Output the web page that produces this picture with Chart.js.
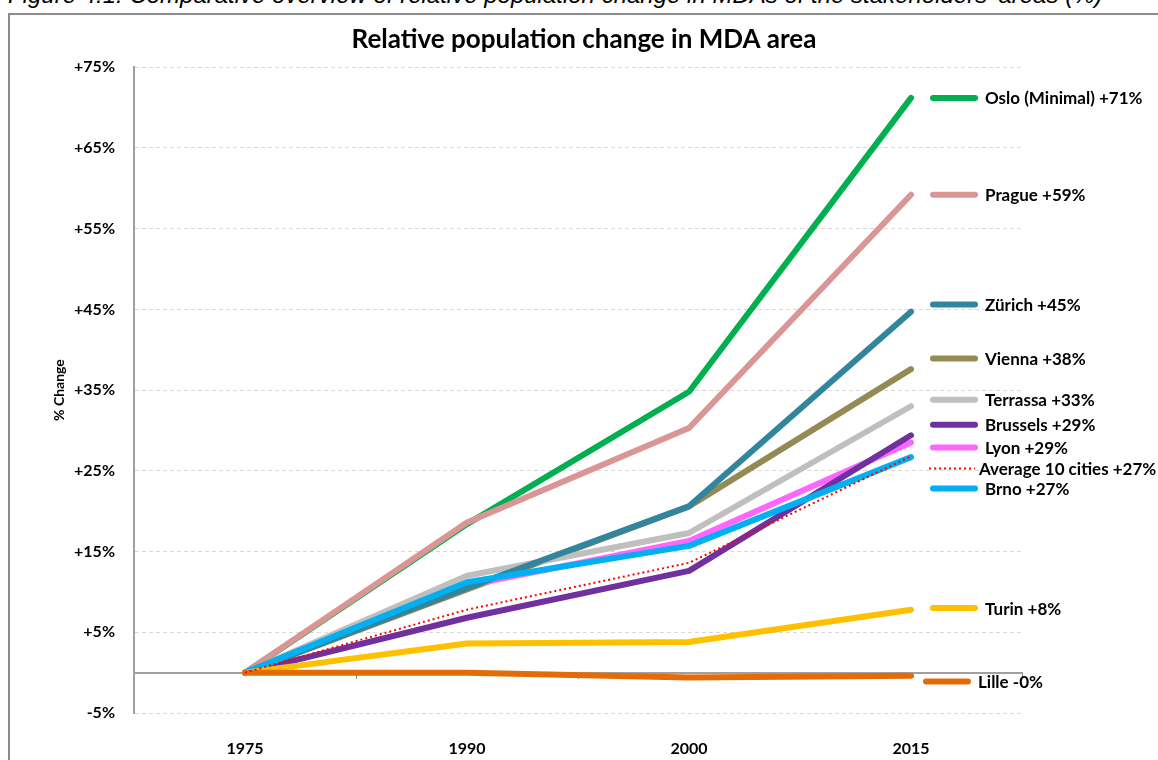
<!DOCTYPE html>
<html>
<head>
<meta charset="utf-8">
<script src="https://cdn.jsdelivr.net/npm/chart.js@4.4.0/dist/chart.umd.min.js"></script>
<style>
  html, body { margin: 0; padding: 0; background: #fff; overflow: hidden; }
  #wrap { position: relative; width: 1158px; height: 760px; }
  #caption { position: absolute; left: 8px; top: -19px; line-height: 24px; font: italic 24px "Liberation Sans", Arial, sans-serif; color: #000; white-space: nowrap; }
  #frame { position: absolute; left: 8px; top: 13px; right: 0; bottom: 0; border-left: 2px solid #8c8c8c; border-top: 2px solid #8c8c8c; }
  canvas { position: absolute; left: 0; top: 0; }
</style>
</head>
<body>
<div id="wrap">
  <div id="caption">Figure 4.1: Comparative overview of relative population change in MDAs of the stakeholders' areas (%)</div>
  <div id="frame"></div>
  <canvas id="chart" width="1158" height="760"></canvas>
</div>
<script>
// data (% change since 1975)
const years = ['1975', '1990', '2000', '2015'];
const yTicks = [-5, 0, 5, 15, 25, 35, 45, 55, 65, 75];

const oslo     = [0, 18.4, 34.8, 71.2];
const prague   = [0, 18.6, 30.3, 59.2];
const zurich   = [0, 10.5, 20.6, 44.7];
const vienna   = [0, 10.3, 20.6, 37.6];
const terrassa = [0, 12.0, 17.3, 33.0];
const brussels = [0, 6.8, 12.6, 29.4];
const lyon     = [0, 10.8, 16.3, 28.5];
const average  = [0, 7.8, 13.6, 26.8];
const brno     = [0, 11.2, 15.7, 26.7];
const turin    = [0, 3.6, 3.8, 7.8];
const lille    = [0, 0, -0.6, -0.4];

const labelNames = ['Oslo (Minimal) +71%', 'Prague +59%', 'Zürich +45%', 'Vienna +38%', 'Terrassa +33%',
  'Brussels +29%', 'Lyon +29%', 'Average 10 cities +27%', 'Brno +27%', 'Turin +8%', 'Lille -0%'];
// where each end label sits, in % units
const labelAnchors = [71.2, 59.2, 45.6, 38.9, 33.8, 30.7, 27.9, 25.3, 22.8, 8.0, -1.1];

const series = [oslo, prague, zurich, vienna, terrassa, brussels, lyon, average, brno, turin, lille];

// colour, dash, draw order (lower = on top)
const styles = [
  { color: '#00b050', order: 10 },
  { color: '#d99694', order: 5 },
  { color: '#31859c', order: 4 },
  { color: '#948a54', order: 9 },
  { color: '#bfbfbf', order: 8 },
  { color: '#7030a0', order: 6 },
  { color: '#ff66ff', order: 7 },
  { color: '#ff0000', order: 0, dash: [2, 3], width: 2 },
  { color: '#00b0f0', order: 3 },
  { color: '#ffc000', order: 2 },
  { color: '#e36c09', order: 1 }
];

const datasets = series.map((values, i) => ({
  label: labelNames[i],
  data: values,
  borderColor: styles[i].color,
  borderWidth: styles[i].width || 6,
  borderDash: styles[i].dash || [],
  borderCapStyle: styles[i].dash ? 'butt' : 'round',
  borderJoinStyle: 'round',
  pointRadius: 0,
  tension: 0,
  fill: false,
  order: styles[i].order
}));

const endLabels = {
  id: 'endLabels',
  afterDatasetsDraw(chart) {
    const { ctx, scales: { x, y } } = chart;
    const x0 = x.getPixelForValue(years.length - 1) + 22;
    ctx.save();
    chart.data.datasets.forEach((ds, i) => {
      const py = y.getPixelForValue(labelAnchors[i]);
      const dotted = ds.borderDash.length > 0;
      const last = i === labelNames.length - 1;
      const sx = last ? x0 - 7 : x0;
      ctx.strokeStyle = ds.borderColor;
      ctx.lineWidth = ds.borderWidth;
      ctx.lineCap = dotted ? 'butt' : 'round';
      ctx.setLineDash(ds.borderDash);
      ctx.beginPath();
      ctx.moveTo(dotted ? sx - 4 : sx, py);
      ctx.lineTo(sx + 42, py);
      ctx.stroke();
      ctx.setLineDash([]);
      ctx.fillStyle = '#000';
      ctx.font = 'bold 17px Lato';
      ctx.textBaseline = 'middle';
      ctx.fillText(ds.label, dotted ? sx + 46 : sx + 52, py + 1);
    });
    ctx.restore();
  }
};

const ctx = document.getElementById('chart').getContext('2d');
new Chart(ctx, {
  type: 'line',
  data: { labels: years, datasets: datasets },
  options: {
    responsive: false,
    animation: false,
    layout: { padding: { top: 14, right: 0, left: 10, bottom: 0 } },
    plugins: {
      legend: { display: false },
      tooltip: { enabled: false },
      title: {
        display: true,
        text: 'Relative population change in MDA area',
        color: '#000',
        font: { family: 'Lato', size: 26, weight: 'bold' },
        padding: { top: 10, bottom: 12 }
      }
    },
    scales: {
      x: {
        offset: true,
        grid: { display: false },
        border: { display: false },
        ticks: { color: '#000', font: { family: 'Lato', size: 16, weight: 'bold' }, padding: 18 },
        afterFit: s => { s.height = 47; }
      },
      x2: {
        type: 'category',
        labels: years,
        position: { y: 0 },
        offset: true,
        grid: { display: true, offset: true, drawOnChartArea: false, drawTicks: true, tickLength: 5, color: '#8c8c8c', lineWidth: 1 },
        border: { display: true, color: '#a0a0a0', width: 2 },
        ticks: { display: false }
      },
      y: {
        min: -5,
        max: 75,
        afterBuildTicks: s => { s.ticks = yTicks.map(v => ({ value: v })); },
        grid: {
          drawTicks: false,
          color: c => c.tick && c.tick.value === 0 ? '#a0a0a0' : '#d9d9d9',
          lineWidth: 1
        },
        border: { display: true, color: '#a0a0a0', width: 2, dash: [4, 3] },
        ticks: {
          color: '#000',
          padding: 19,
          font: { family: 'Lato', size: 16, weight: 'bold' },
          callback: v => v === 0 ? '' : (v > 0 ? '+' : '') + v + '%'
        },
        title: {
          display: true,
          text: '% Change',
          color: '#000',
          font: { family: 'Lato', size: 14, weight: 'bold' },
          padding: { top: 41, bottom: 0 }
        },
        afterFit: s => { s.width = 124; }
      },
      // empty right-hand axis that only reserves room for the end labels
      yRight: {
        position: 'right',
        grid: { display: false },
        border: { display: false },
        ticks: { display: false },
        afterFit: s => { s.width = 136; }
      }
    }
  },
  plugins: [endLabels]
});
</script>
</body>
</html>
